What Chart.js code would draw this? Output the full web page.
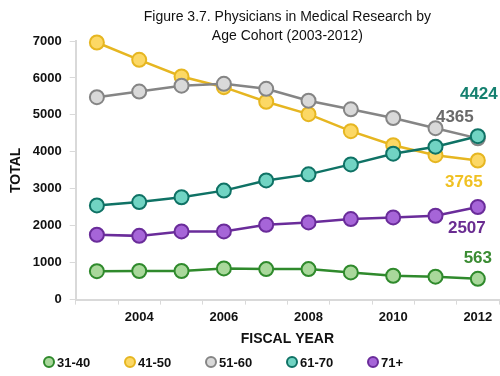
<!DOCTYPE html>
<html>
<head>
<meta charset="utf-8">
<script src="https://cdn.jsdelivr.net/npm/chart.js@4"></script>
<style>
  html, body { margin: 0; padding: 0; background: #ffffff; }
  #wrap { width: 500px; height: 376px; }
</style>
</head>
<body>
<div id="wrap"><canvas id="chart"></canvas></div>
<script>
/* ==========================
   DADOS
========================== */
const years = ["2003", "2004", "2005", "2006", "2007", "2008", "2009", "2010", "2011", "2012"];
const labeledYears = ["2004", "2006", "2008", "2010", "2012"];

const age3140 = [770, 775, 775, 845, 825, 825, 735, 645, 620, 563];
const age4150 = [6960, 6490, 6040, 5750, 5355, 5020, 4560, 4180, 3910, 3765];
const age5160 = [5480, 5630, 5790, 5840, 5705, 5385, 5150, 4915, 4640, 4365];
const age6170 = [2550, 2640, 2770, 2950, 3225, 3390, 3660, 3950, 4140, 4424];
const age71 = [1755, 1725, 1845, 1845, 2025, 2090, 2180, 2225, 2270, 2507];

const titleLines = ["Figure 3.7. Physicians in Medical Research by", "Age Cohort (2003-2012)"];

/* ==========================
   ESTILO
========================== */
const FONT = "'Liberation Sans', Arial, sans-serif";
const AXIS_GRAY = "#d9d9d9";

function serie(label, data, line, fill, text, order, dx, dy) {
    return {
        label, data, order,
        borderColor: line,
        backgroundColor: fill,
        pointBackgroundColor: fill,
        pointBorderColor: line,
        borderWidth: 2.5,
        pointRadius: 7,
        pointHoverRadius: 7,
        pointBorderWidth: 2,
        tension: 0,
        clip: false,
        endLabel: { color: text, dx, dy }
    };
}

const datasets = [
    serie("31-40", age3140, "#2f8a2c", "#a9d89b", "#3b8c33", 5, 0, -20),
    serie("41-50", age4150, "#e6b621", "#fcd865", "#f0c123", 4, -14, 22),
    serie("51-60", age5160, "#858585", "#d9d9d9", "#6a6a6a", 3, -23, -21),
    serie("61-70", age6170, "#0f7265", "#71d4c3", "#15806f", 2, 1, -42),
    serie("71+", age71, "#6a2c9a", "#a665d8", "#6a2c91", 1, -11, 21)
];

/* ==========================
   PLUGINS
========================== */
const titlePlugin = {
    id: "titlePlugin",
    afterDraw(chart) {
        const { ctx, chartArea } = chart;
        const cx = (chartArea.left + chartArea.right) / 2;
        ctx.save();
        ctx.font = "14px " + FONT;
        ctx.fillStyle = "#111";
        ctx.textAlign = "center";
        ctx.textBaseline = "middle";
        titleLines.forEach((t, i) => ctx.fillText(t, cx, 17 + i * 19));
        ctx.restore();
    }
};

const endLabelPlugin = {
    id: "endLabelPlugin",
    afterDatasetsDraw(chart) {
        const { ctx } = chart;
        ctx.save();
        ctx.font = "bold 17px " + FONT;
        ctx.textAlign = "center";
        ctx.textBaseline = "middle";
        chart.data.datasets.forEach((ds, i) => {
            const meta = chart.getDatasetMeta(i);
            const last = meta.data[meta.data.length - 1];
            const cfg = ds.endLabel;
            ctx.fillStyle = cfg.color;
            ctx.fillText(String(ds.data[ds.data.length - 1]), last.x + cfg.dx, last.y + cfg.dy);
        });
        ctx.restore();
    }
};

const legendPlugin = {
    id: "legendPlugin",
    afterDraw(chart) {
        const { ctx } = chart;
        ctx.save();
        ctx.font = "bold 13px " + FONT;
        ctx.textBaseline = "middle";
        ctx.textAlign = "left";
        chart.data.datasets.forEach((ds, i) => {
            const x = 49 + i * 81;
            const y = 362;
            ctx.beginPath();
            ctx.arc(x, y, 5, 0, Math.PI * 2);
            ctx.fillStyle = ds.pointBackgroundColor;
            ctx.fill();
            ctx.lineWidth = 2;
            ctx.strokeStyle = ds.pointBorderColor;
            ctx.stroke();
            ctx.fillStyle = "#111";
            ctx.fillText(ds.label, x + 8, y + 1);
        });
        ctx.restore();
    }
};

/* ==========================
   CHART
========================== */
new Chart(document.getElementById("chart"), {
    type: "line",
    data: { labels: years, datasets },
    plugins: [titlePlugin, endLabelPlugin, legendPlugin],
    options: {
        responsive: true,
        maintainAspectRatio: false,
        animation: false,
        layout: { autoPadding: false, padding: { top: 41, left: 8, right: 1, bottom: 28 } },
        plugins: {
            legend: { display: false },
            title: { display: false },
            tooltip: { enabled: false }
        },
        scales: {
            x: {
                type: "category",
                offset: true,
                border: { color: AXIS_GRAY, width: 2 },
                grid: { offset: true, drawOnChartArea: false, color: AXIS_GRAY, tickLength: 5 },
                ticks: {
                    autoSkip: false,
                    maxRotation: 0,
                    padding: 5,
                    color: "#111",
                    font: { family: FONT, size: 13, weight: "bold" },
                    callback: function (v) {
                        const lab = this.getLabelForValue(v);
                        return labeledYears.includes(lab) ? lab : "";
                    }
                },
                title: {
                    display: true,
                    text: "FISCAL YEAR",
                    color: "#111",
                    padding: { top: 1, bottom: 0 },
                    font: { family: FONT, size: 14, weight: "bold" }
                }
            },
            y: {
                min: 0,
                max: 7000,
                border: { color: AXIS_GRAY, width: 2 },
                grid: { drawOnChartArea: false, color: AXIS_GRAY, tickLength: 6 },
                ticks: {
                    stepSize: 1000,
                    padding: 8,
                    color: "#111",
                    font: { family: FONT, size: 13, weight: "bold" },
                    callback: (v) => String(v)
                },
                title: {
                    display: true,
                    text: "TOTAL",
                    color: "#111",
                    padding: { top: 0, bottom: 0 },
                    font: { family: FONT, size: 14, weight: "bold" }
                }
            }
        }
    }
});
</script>
</body>
</html>
